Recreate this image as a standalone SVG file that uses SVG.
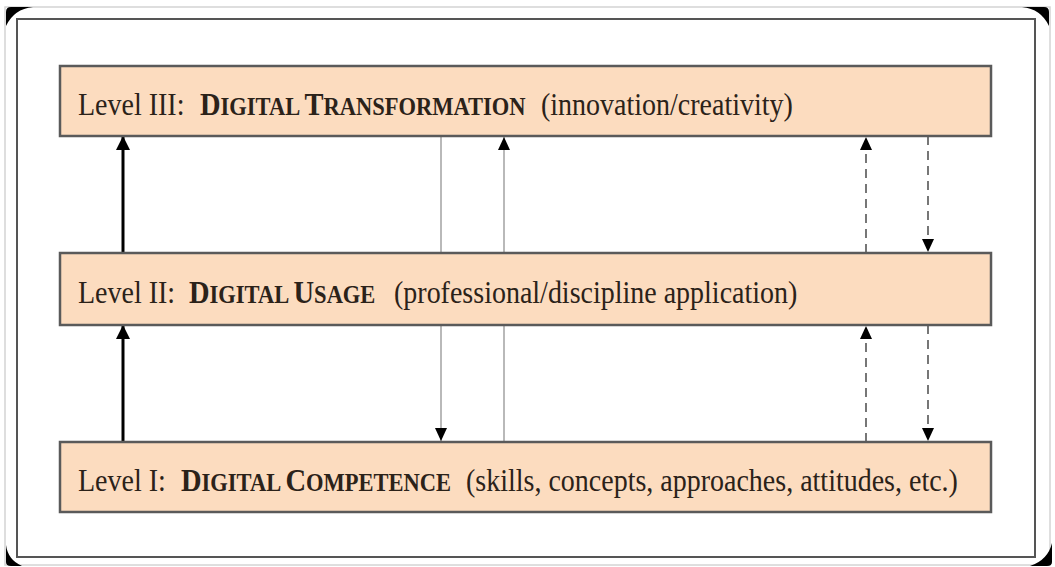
<svg xmlns="http://www.w3.org/2000/svg" width="1055" height="567" viewBox="0 0 1055 567">
  <style>
    .box { fill: #fcdcbf; stroke: #5a5a5a; stroke-width: 2.5; }
    .t { font-family: "Liberation Serif", "Times New Roman", serif; font-size: 28px; fill: #2b2219; }
    .sc { font-weight: bold; }
    .big { font-size: 28.5px; }
    .small { font-size: 22.5px; }
    .thick { stroke: #000; stroke-width: 3; fill: none; }
    .thin { stroke: #a8a8a8; stroke-width: 1.6; fill: none; }
    .dash { stroke: #555; stroke-width: 1.6; fill: none; stroke-dasharray: 9 6; }
  </style>
  <defs>
    <marker id="ah" markerUnits="userSpaceOnUse" markerWidth="14" markerHeight="14" refX="13" refY="7" orient="auto">
      <path d="M0,0 L14,7 L0,14 Z" fill="#000"/>
    </marker>
    <marker id="ahs" markerUnits="userSpaceOnUse" markerWidth="13" markerHeight="12" refX="13" refY="6" orient="auto">
      <path d="M0,0 L13,6 L0,12 Z" fill="#000"/>
    </marker>
  </defs>
  <rect x="0" y="0" width="1055" height="567" fill="#fff"/>
  <g id="frame">
    <rect x="5" y="7" width="1045" height="558" fill="none" stroke="#d4d4d4" stroke-width="1.5"/>
    <rect x="17" y="19" width="1018" height="538" fill="#fff" stroke="#555" stroke-width="2"/>
    <path d="M6,26 L6,12 Q6,7 11,7 L33,7 Q14,9 6,26 Z" fill="#000"/>
    <path d="M1049,26 L1049,12 Q1049,7 1044,7 L1022,7 Q1041,9 1049,26 Z" fill="#000"/>
    <path d="M6,545 L6,562 Q6,566 11,566 L22,566 Q8,560 6,545 Z" fill="#000"/>
    <path d="M1052,543 L1052,562 Q1052,566 1047,566 L1030,566 Q1048,560 1052,543 Z" fill="#000"/>
  </g>
  <g id="connectors">
    <line class="thin" x1="441" y1="136" x2="441" y2="441" marker-end="url(#ahs)"/>
    <line class="thin" x1="504" y1="442" x2="504" y2="137" marker-end="url(#ahs)"/>
    <line class="thick" x1="123" y1="253" x2="123" y2="137" marker-end="url(#ah)"/>
    <line class="thick" x1="123" y1="442" x2="123" y2="326" marker-end="url(#ah)"/>
    <line class="dash" x1="866" y1="253" x2="866" y2="137" marker-end="url(#ahs)"/>
    <line class="dash" x1="866" y1="442" x2="866" y2="326" marker-end="url(#ahs)"/>
    <line class="dash" x1="928" y1="136" x2="928" y2="252" marker-end="url(#ahs)"/>
    <line class="dash" x1="928" y1="325" x2="928" y2="441" marker-end="url(#ahs)"/>
  </g>
  <g id="level3">
    <rect class="box" x="60" y="66" width="931" height="70"/>
    <text class="t" transform="translate(0,115) scale(1,1.13)"><tspan x="78">Level III:</tspan><tspan class="sc" x="200"><tspan class="big">D</tspan><tspan class="small">IGITAL </tspan><tspan class="big">T</tspan><tspan class="small">RANSFORMATION</tspan></tspan><tspan x="541">(innovation/creativity)</tspan></text>
  </g>
  <g id="level2">
    <rect class="box" x="60" y="253" width="931" height="72"/>
    <text class="t" transform="translate(0,303) scale(1,1.13)"><tspan x="78">Level II:</tspan><tspan class="sc" x="189"><tspan class="big">D</tspan><tspan class="small">IGITAL </tspan><tspan class="big">U</tspan><tspan class="small">SAGE</tspan></tspan><tspan x="394">(professional/discipline application)</tspan></text>
  </g>
  <g id="level1">
    <rect class="box" x="60" y="442" width="931" height="70"/>
    <text class="t" transform="translate(0,491) scale(1,1.13)"><tspan x="78">Level I:</tspan><tspan class="sc" x="181"><tspan class="big">D</tspan><tspan class="small">IGITAL </tspan><tspan class="big">C</tspan><tspan class="small">OMPETENCE</tspan></tspan><tspan x="466">(skills, concepts, approaches, attitudes, etc.)</tspan></text>
  </g>
</svg>
